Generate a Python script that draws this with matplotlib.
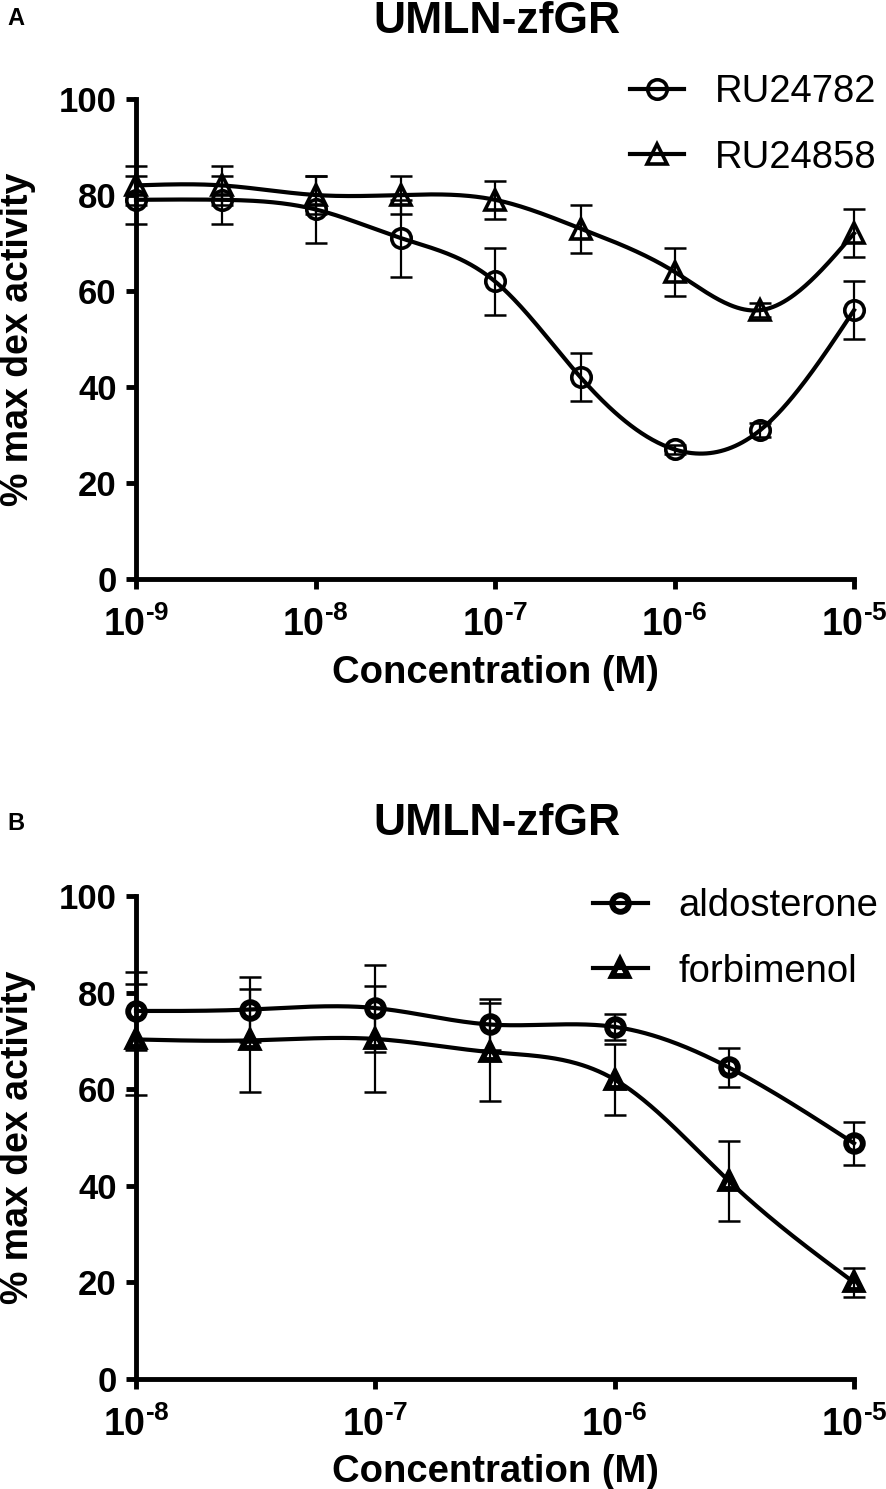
import numpy as np
import matplotlib
matplotlib.use("Agg")
import matplotlib.pyplot as plt
from matplotlib.lines import Line2D

plt.rcParams['font.family'] = ['Liberation Sans', 'DejaVu Sans']
plt.rcParams['mathtext.fontset'] = 'custom'
plt.rcParams['mathtext.rm'] = 'Liberation Sans:bold'
plt.rcParams['mathtext.bf'] = 'Liberation Sans:bold'
plt.rcParams['mathtext.it'] = 'Liberation Sans:bold'
plt.rcParams['mathtext.default'] = 'bf'

# Panel A data (% max dex activity, mean and SD)
conc_a = [1e-9, 3e-9, 1e-8, 3e-8, 1e-7, 3e-7, 1e-6, 3e-6, 1e-5]
ru24782 = [79, 79, 77, 71, 62, 42, 27, 31, 56]
ru24782_sd = [5, 5, 7, 8, 7, 5, 1, 1.5, 6]
ru24858 = [82, 82, 80, 80, 79, 73, 64, 56, 72]
ru24858_sd = [4, 4, 4, 4, 4, 5, 5, 1.5, 5]
ticks_a = [1e-9, 1e-8, 1e-7, 1e-6, 1e-5]
ticklabels_a = ['$10^{‐9}$', '$10^{‐8}$', '$10^{‐7}$', '$10^{‐6}$', '$10^{‐5}$']

# Panel B data
conc_b = [1e-8, 3e-8, 1e-7, 3e-7, 1e-6, 3e-6, 1e-5]
aldosterone = [76.2, 76.5, 76.8, 73.4, 72.9, 64.5, 48.8]
aldosterone_sd = [8, 6.8, 9, 5.2, 2.7, 4.1, 4.5]
forbimenol = [70.3, 70.1, 70.4, 67.7, 62.0, 41.0, 20.0]
forbimenol_sd = [11.5, 10.7, 11.0, 10.2, 7.3, 8.3, 3.0]
ticks_b = [1e-8, 1e-7, 1e-6, 1e-5]
ticklabels_b = ['$10^{‐8}$', '$10^{‐7}$', '$10^{‐6}$', '$10^{‐5}$']

yticks = [0, 20, 40, 60, 80, 100]


def natural_spline(xk, yk, xs):
    # natural cubic spline through the points, in log10(x)
    xk = np.log10(np.asarray(xk, float))
    yk = np.asarray(yk, float)
    xs = np.log10(xs)
    n = len(xk)
    h = np.diff(xk)
    A = np.zeros((n, n))
    r = np.zeros(n)
    A[0, 0] = A[-1, -1] = 1.0
    for i in range(1, n - 1):
        A[i, i - 1] = h[i - 1]
        A[i, i] = 2 * (h[i - 1] + h[i])
        A[i, i + 1] = h[i]
        r[i] = 3 * ((yk[i + 1] - yk[i]) / h[i] - (yk[i] - yk[i - 1]) / h[i - 1])
    c = np.linalg.solve(A, r)
    b = (yk[1:] - yk[:-1]) / h - h * (2 * c[:-1] + c[1:]) / 3
    d = (c[1:] - c[:-1]) / (3 * h)
    idx = np.clip(np.searchsorted(xk, xs) - 1, 0, n - 2)
    t = xs - xk[idx]
    return yk[idx] + b[idx] * t + c[idx] * t ** 2 + d[idx] * t ** 3


def draw_series(ax, x, y, sd, marker, ms, mew, cap):
    xs = np.logspace(np.log10(x[0]), np.log10(x[-1]), 400)
    ax.plot(xs, natural_spline(x, y, xs), color='black', lw=3, clip_on=False, zorder=3)
    ax.errorbar(x, y, yerr=sd, fmt='none', ecolor='black', elinewidth=1.6,
                capsize=cap, capthick=1.8, clip_on=False, zorder=2)
    ax.plot(x, y, ls='none', marker=marker, ms=ms, mew=mew, mfc='none',
            mec='black', clip_on=False, zorder=4)


def style_axes(ax, ticks, labels, xlim):
    ax.set_xscale('log')
    ax.set_xlim(*xlim)
    ax.set_ylim(0, 100)
    ax.set_xticks(ticks)
    ax.set_xticklabels(labels)
    ax.xaxis.set_minor_locator(matplotlib.ticker.NullLocator())
    ax.set_yticks(yticks)
    ax.set_yticklabels([str(v) for v in yticks])
    for s in ['top', 'right']:
        ax.spines[s].set_visible(False)
    for s in ['left', 'bottom']:
        ax.spines[s].set_linewidth(3.5)
    ax.tick_params(axis='both', width=3.5, length=7, direction='out')
    ax.tick_params(axis='y', labelsize=25, pad=7)
    ax.tick_params(axis='x', labelsize=27, pad=13)
    for lab in ax.get_yticklabels():
        lab.set_fontweight('bold')
    ax.set_ylabel('% max dex activity', fontsize=27, fontweight='bold')
    ax.yaxis.set_label_coords(-0.164, 0.5)
    ax.yaxis.label.set_va('center')
    ax.set_xlabel('Concentration (M)', fontsize=27.5, fontweight='bold')
    ax.xaxis.label.set_va('baseline')


fig = plt.figure(figsize=(8.86, 14.89), dpi=100)
W, H = 886, 1489

# ---------------- Panel A ----------------
axA = fig.add_axes([136 / W, 1 - 579 / H, 718 / W, 480 / H])
draw_series(axA, conc_a, ru24782, ru24782_sd, 'o', 14, 2.6, 8)
draw_series(axA, conc_a, ru24858, ru24858_sd, '^', 14, 2.6, 8)
style_axes(axA, ticks_a, ticklabels_a, (1e-9, 1e-5))
axA.xaxis.set_label_coords(0.5, -(683 - 579) / 480)

hA = [Line2D([], [], color='black', lw=3, marker='o', ms=14, mew=2.6, mfc='none'),
      Line2D([], [], color='black', lw=3, marker='^', ms=14, mew=2.6, mfc='none')]
axA.legend(hA, ['RU24782', 'RU24858'], loc='upper right',
           bbox_to_anchor=(876 / W, 1 - 74 / H), bbox_transform=fig.transFigure,
           frameon=False, fontsize=27.5, borderpad=0, borderaxespad=0,
           handlelength=1.42, handletextpad=0.8, labelspacing=0.78)

fig.text(497 / W, 1 - 33 / H, 'UMLN-zfGR', ha='center', va='baseline',
         fontsize=32, fontweight='bold')
fig.text(7 / W, 1 - 25 / H, 'A', ha='left', va='baseline', fontsize=17, fontweight='bold')

# ---------------- Panel B ----------------
axB = fig.add_axes([136 / W, 1 - 1379 / H, 718 / W, 483 / H])
draw_series(axB, conc_b, aldosterone, aldosterone_sd, 'o', 12, 4.2, 8)
draw_series(axB, conc_b, forbimenol, forbimenol_sd, '^', 12, 4.2, 8)
style_axes(axB, ticks_b, ticklabels_b, (1e-8, 1e-5))
axB.xaxis.set_label_coords(0.5, -(1482 - 1379) / 483)

hB = [Line2D([], [], color='black', lw=3, marker='o', ms=12, mew=4.2, mfc='none'),
      Line2D([], [], color='black', lw=3, marker='^', ms=12, mew=4.2, mfc='none')]
axB.legend(hB, ['aldosterone', 'forbimenol'], loc='upper right',
           bbox_to_anchor=(878 / W, 1 - 888 / H), bbox_transform=fig.transFigure,
           frameon=False, fontsize=27.5, borderpad=0, borderaxespad=0,
           handlelength=1.42, handletextpad=0.8, labelspacing=0.78)

fig.text(497 / W, 1 - 835 / H, 'UMLN-zfGR', ha='center', va='baseline',
         fontsize=32, fontweight='bold')
fig.text(7 / W, 1 - 830 / H, 'B', ha='left', va='baseline', fontsize=17, fontweight='bold')

fig.savefig('out.png', dpi=100)
